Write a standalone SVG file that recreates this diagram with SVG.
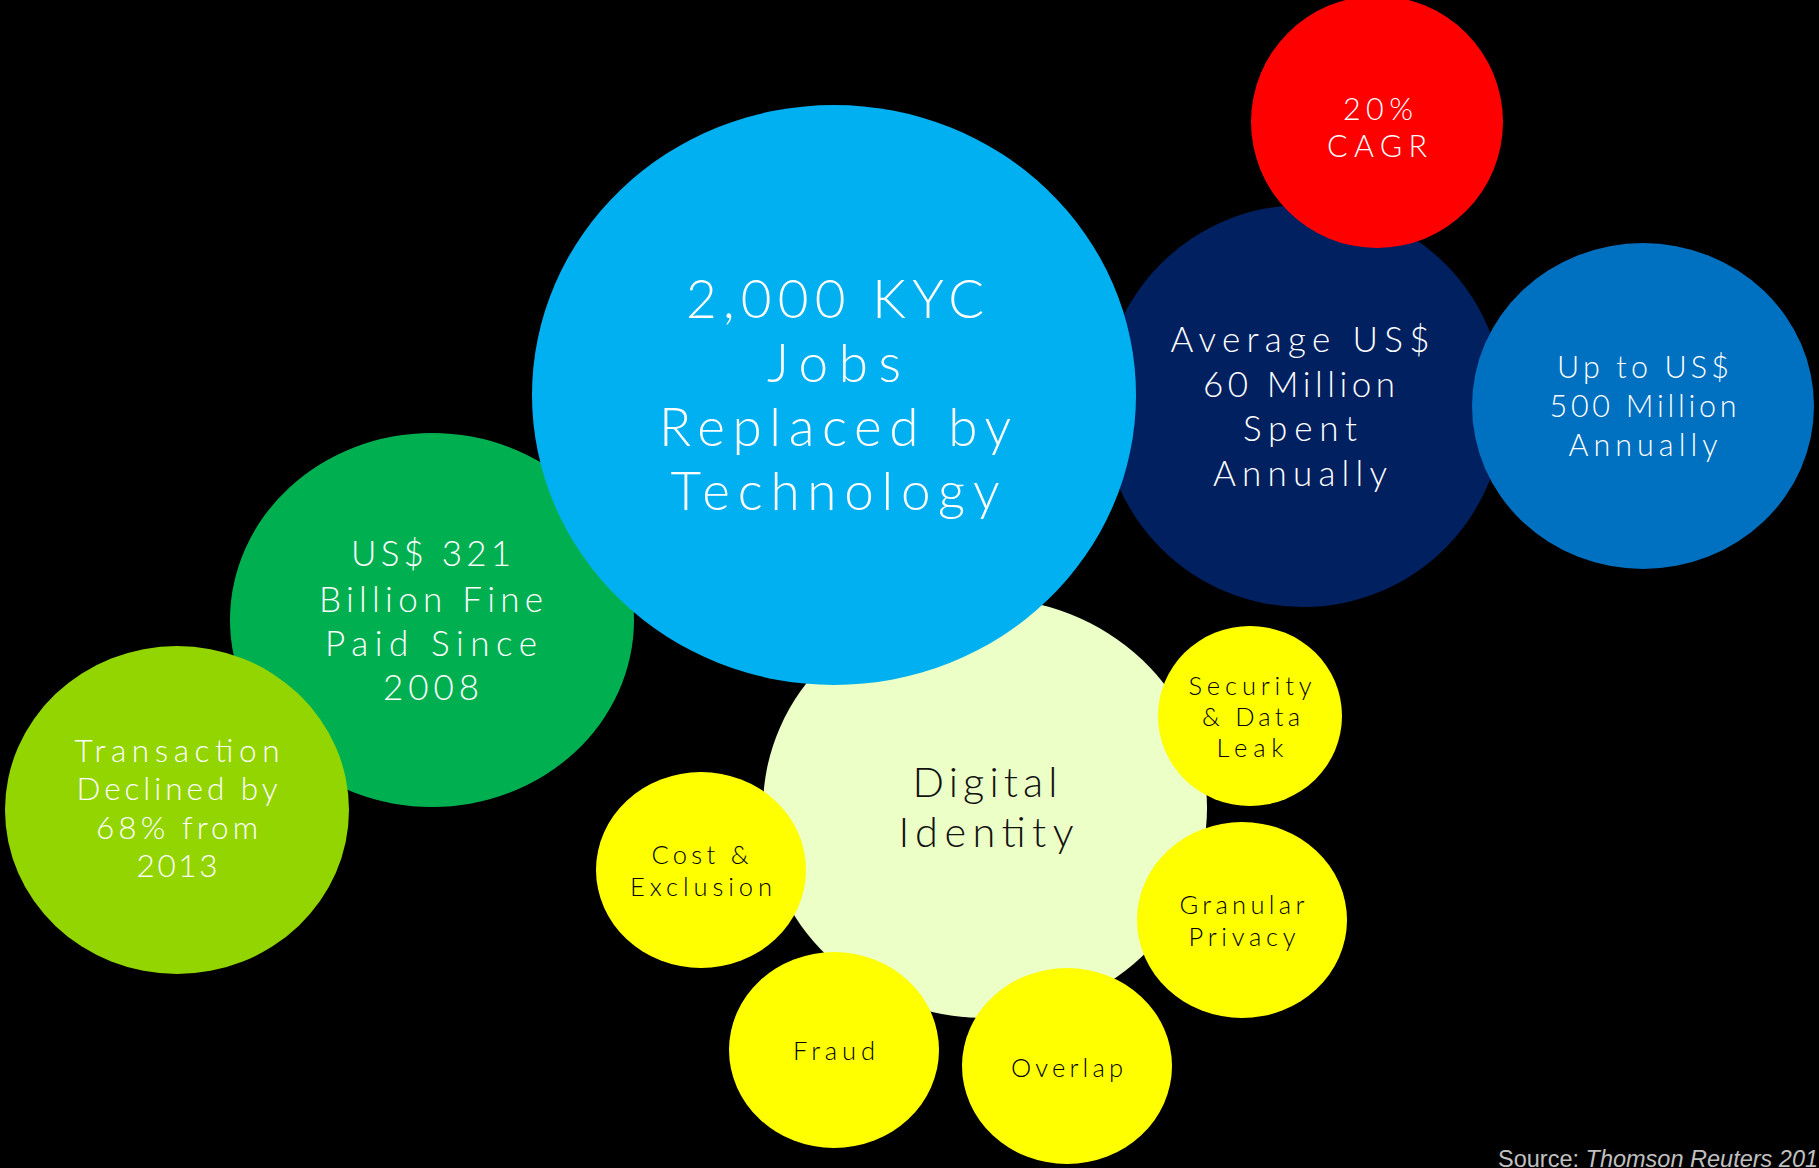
<svg xmlns="http://www.w3.org/2000/svg" width="1819" height="1168" viewBox="0 0 1819 1168">
<style>
text.t{font-family:Lato,"Open Sans","DejaVu Sans",sans-serif;font-weight:300;text-anchor:middle}
.w{fill:#ffffff}
.k{fill:#000000}
.d{fill:#111111}
.src{font-family:"Liberation Sans",Arial,sans-serif;font-size:23.5px;fill:#c0c0c0}
</style>
<rect x="0" y="0" width="1819" height="1168" fill="#000000"/>
<g id="connectors"/>
<g id="node-fine">
<ellipse cx="432" cy="620" rx="202" ry="187" fill="#00B050"/>
<g font-size="35">
<text class="t w" x="431" y="566" textLength="160" lengthAdjust="spacing">US$ 321</text>
<text class="t w" x="431" y="612" textLength="224" lengthAdjust="spacing">Billion Fine</text>
<text class="t w" x="431" y="656" textLength="212" lengthAdjust="spacing">Paid Since</text>
<text class="t w" x="431" y="700" textLength="96" lengthAdjust="spacing">2008</text>
</g>
</g>
<g id="node-transaction">
<ellipse cx="177" cy="810" rx="172" ry="164" fill="#93D500"/>
<g font-size="31.5">
<text class="t w" x="177" y="762" textLength="205" lengthAdjust="spacing">Transaction</text>
<text class="t w" x="177" y="800" textLength="201" lengthAdjust="spacing">Declined by</text>
<text class="t w" x="177" y="839" textLength="162" lengthAdjust="spacing">68% from</text>
<text class="t w" x="177" y="877" textLength="81" lengthAdjust="spacing">2013</text>
</g>
</g>
<g id="node-spent">
<ellipse cx="1303" cy="406" rx="201" ry="201" fill="#002060"/>
<g font-size="35">
<text class="t w" x="1300" y="352" textLength="259" lengthAdjust="spacing">Average US$</text>
<text class="t w" x="1299" y="397" textLength="192" lengthAdjust="spacing">60 Million</text>
<text class="t w" x="1300" y="441" textLength="114" lengthAdjust="spacing">Spent</text>
<text class="t w" x="1300" y="486" textLength="174" lengthAdjust="spacing">Annually</text>
</g>
</g>
<g id="node-cagr">
<ellipse cx="1377" cy="122" rx="126" ry="126" fill="#FF0000"/>
<g font-size="30.5">
<text class="t w" x="1378" y="120" textLength="70" lengthAdjust="spacing">20%</text>
<text class="t w" x="1377" y="157" textLength="100" lengthAdjust="spacing">CAGR</text>
</g>
</g>
<g id="node-500m">
<ellipse cx="1643" cy="406" rx="171" ry="163" fill="#0070C0"/>
<g font-size="30.5">
<text class="t w" x="1643" y="378" textLength="172" lengthAdjust="spacing">Up to US$</text>
<text class="t w" x="1643" y="417" textLength="187" lengthAdjust="spacing">500 Million</text>
<text class="t w" x="1643" y="456" textLength="149" lengthAdjust="spacing">Annually</text>
</g>
</g>
<g id="node-digital-identity">
<ellipse cx="985" cy="808" rx="222" ry="210" fill="#EBFFC6"/>
<g font-size="41.5">
<text class="t d" x="985" y="797" textLength="145" lengthAdjust="spacing">Digital</text>
<text class="t d" x="986" y="847" textLength="175" lengthAdjust="spacing">Identity</text>
</g>
</g>
<g id="node-kyc">
<ellipse cx="834" cy="395" rx="302" ry="290" fill="#00B0F0"/>
<g font-size="53">
<text class="t w" x="835" y="318" textLength="298" lengthAdjust="spacing">2,000 KYC</text>
<text class="t w" x="834" y="382" textLength="134" lengthAdjust="spacing">Jobs</text>
<text class="t w" x="835" y="446" textLength="352" lengthAdjust="spacing">Replaced by</text>
<text class="t w" x="835" y="510" textLength="329" lengthAdjust="spacing">Technology</text>
</g>
</g>
<g id="node-security">
<ellipse cx="1250" cy="716" rx="92" ry="90" fill="#FFFF00"/>
<g font-size="25.5">
<text class="t k" x="1250" y="695" textLength="123" lengthAdjust="spacing">Security</text>
<text class="t k" x="1251" y="726" textLength="98" lengthAdjust="spacing">&amp; Data</text>
<text class="t k" x="1250" y="757" textLength="67" lengthAdjust="spacing">Leak</text>
</g>
</g>
<g id="node-granular">
<ellipse cx="1242" cy="920" rx="105" ry="98" fill="#FFFF00"/>
<g font-size="25.5">
<text class="t k" x="1242" y="914" textLength="125" lengthAdjust="spacing">Granular</text>
<text class="t k" x="1242" y="946" textLength="107" lengthAdjust="spacing">Privacy</text>
</g>
</g>
<g id="node-cost">
<ellipse cx="701" cy="870" rx="105" ry="98" fill="#FFFF00"/>
<g font-size="25.5">
<text class="t k" x="700" y="864" textLength="97" lengthAdjust="spacing">Cost &amp;</text>
<text class="t k" x="701" y="896" textLength="142" lengthAdjust="spacing">Exclusion</text>
</g>
</g>
<g id="node-fraud">
<ellipse cx="834" cy="1050" rx="105" ry="98" fill="#FFFF00"/>
<text class="t k" font-size="25.5" x="834" y="1060" textLength="82" lengthAdjust="spacing">Fraud</text>
</g>
<g id="node-overlap">
<ellipse cx="1067" cy="1066" rx="105" ry="98" fill="#FFFF00"/>
<text class="t k" font-size="25.5" x="1067" y="1077" textLength="112" lengthAdjust="spacing">Overlap</text>
</g>
<g id="source">
<text class="src" x="1498" y="1167">Source: <tspan font-style="italic">Thomson Reuters 201</tspan></text>
</g>
</svg>
